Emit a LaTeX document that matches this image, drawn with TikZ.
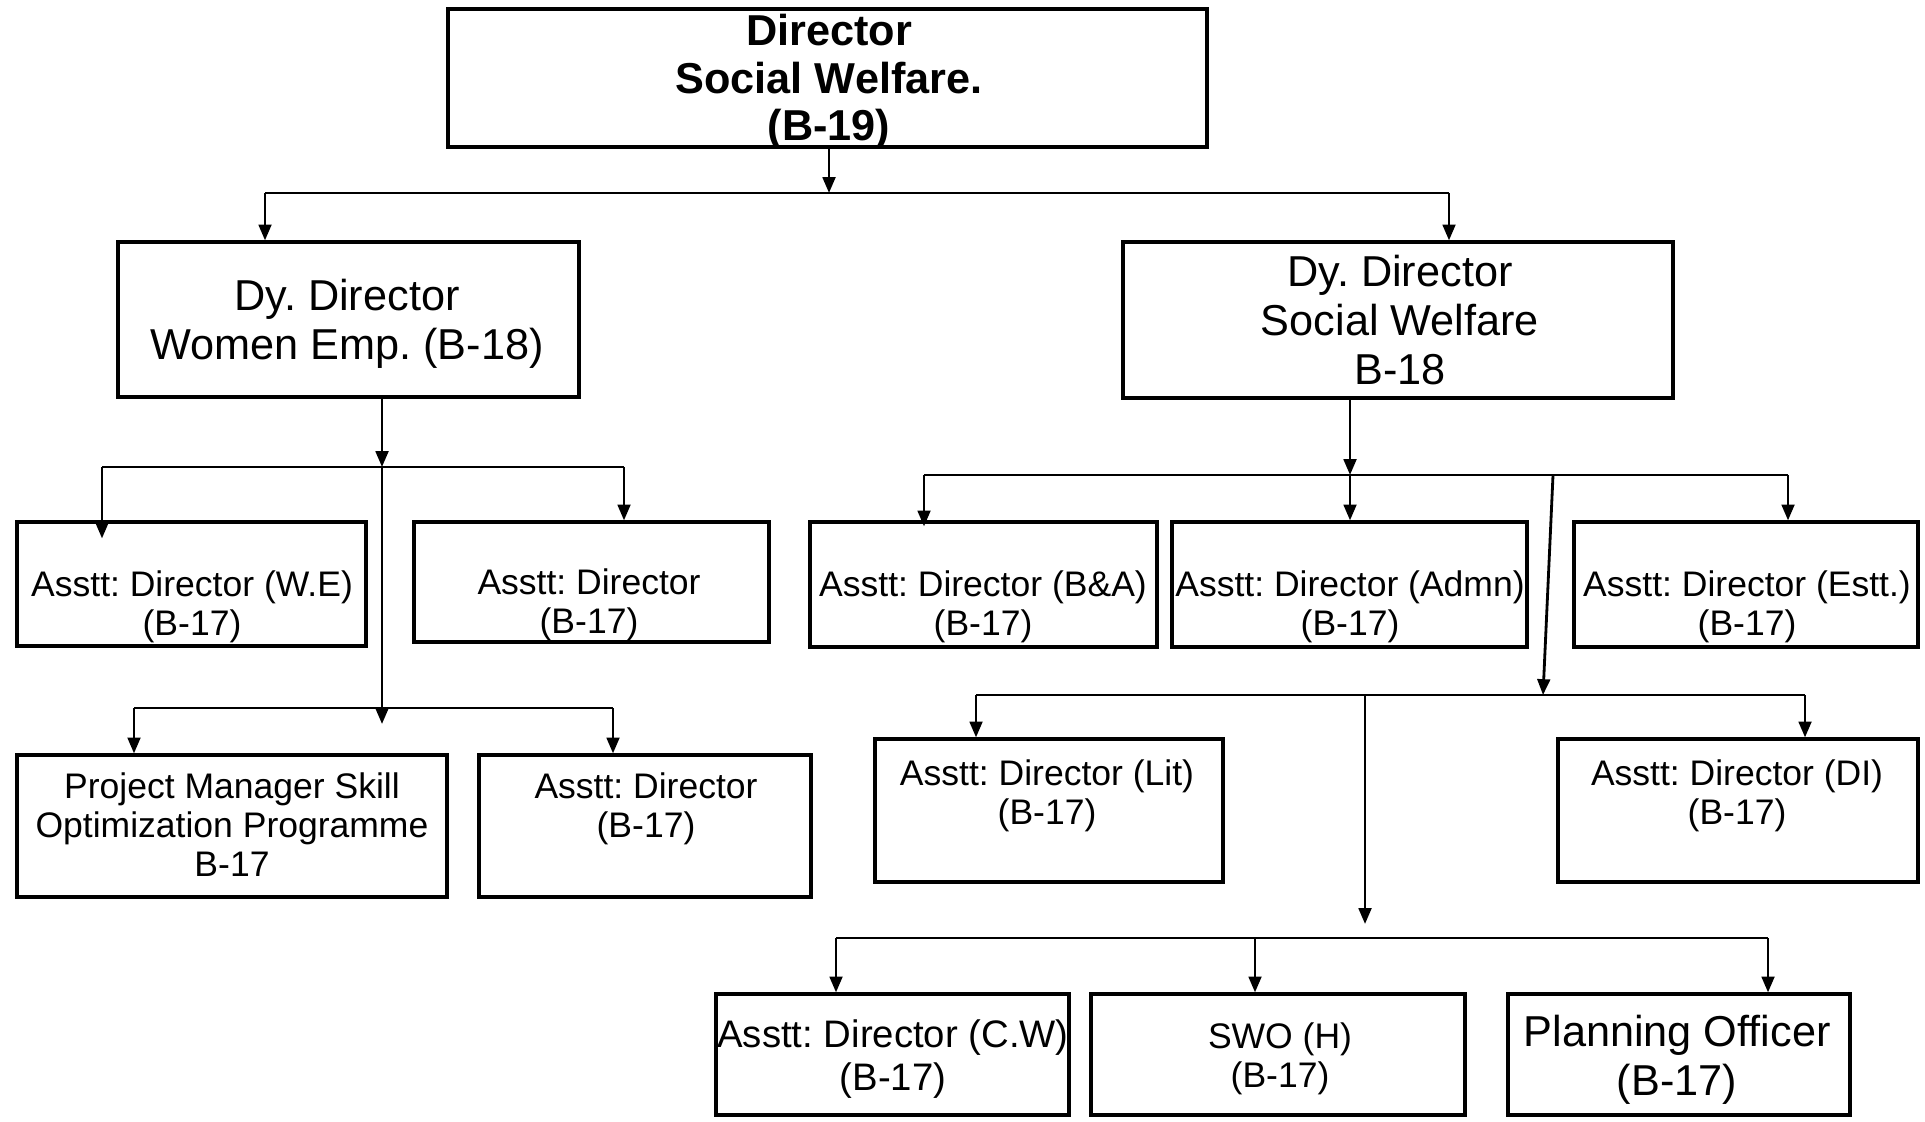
\documentclass[tikz,border=0pt]{standalone}
\usepackage{fontspec}
\setmainfont{Liberation Sans}
\usetikzlibrary{arrows.meta,fit,calc}
\frenchspacing
\begin{document}
\begin{tikzpicture}[x=0.01cm,y=-0.01cm,
  orgbox/.style={draw=black,line width=0.9pt,inner sep=0pt},
  ln/.style={draw=black,line width=0.8pt},
  arr/.style={draw=black,line width=0.8pt,-{Triangle[length=4.5pt,width=3.6pt]}},
  big/.style={align=center,font=\fontsize{12.3}{14}\selectfont,inner sep=0pt},
  bigb/.style={align=center,font=\fontsize{12.3}{13.5}\selectfont\bfseries,inner sep=0pt},
  small/.style={align=center,font=\fontsize{10.1}{11.1}\selectfont,inner sep=0pt},
  mid/.style={align=center,font=\fontsize{10.9}{12}\selectfont,inner sep=0pt}]
\useasboundingbox[fill=white] (0,0) rectangle (1925,1122);

% boxes
\node[orgbox,fit={(448,9) (1207,147)}] (dir) {};
\node[orgbox,fit={(118,242) (579,397)}] (dwe) {};
\node[orgbox,fit={(1123,242) (1673,398)}] (dsw) {};
\node[orgbox,fit={(17,522) (366,646)}] (we) {};
\node[orgbox,fit={(414,522) (769,642)}] (ad1) {};
\node[orgbox,fit={(17,755) (447,897)}] (pm) {};
\node[orgbox,fit={(479,755) (811,897)}] (ad2) {};
\node[orgbox,fit={(810,522) (1157,647)}] (ba) {};
\node[orgbox,fit={(1172,522) (1527,647)}] (adm) {};
\node[orgbox,fit={(1574,522) (1918,647)}] (est) {};
\node[orgbox,fit={(875,739) (1223,882)}] (lit) {};
\node[orgbox,fit={(1558,739) (1918,882)}] (di) {};
\node[orgbox,fit={(716,994) (1069,1115)}] (cw) {};
\node[orgbox,fit={(1091,994) (1465,1115)}] (swo) {};
\node[orgbox,fit={(1508,994) (1850,1115)}] (po) {};

% texts
\node[bigb] (dir-t) at (829,82) {Director\\Social Welfare.\\(B-19)};
\node[big] (dwe-t) at (347,324) {Dy. Director\\Women Emp. (B-18)};
\node[big] (dsw-t) at (1400,320) {Dy. Director\\Social Welfare\\B-18};
\node[small] (we-t) at (192,607) {Asstt: Director (W.E)\\(B-17)};
\node[small] (ad1-t) at (589,605) {Asstt: Director\\(B-17)};
\node[small] (pm-t) at (232,825) {Project Manager Skill\\Optimization Programme\\B-17};
\node[small] (ad2-t) at (646,809) {Asstt: Director\\(B-17)};
\node[small] (ba-t) at (983,607) {Asstt: Director (B\&A)\\(B-17)};
\node[small] (adm-t) at (1350,607) {Asstt: Director (Admn)\\(B-17)};
\node[small] (est-t) at (1747,607) {Asstt: Director (Estt.)\\(B-17)};
\node[small] (lit-t) at (1047,796) {Asstt: Director (Lit)\\(B-17)};
\node[small] (di-t) at (1737,796) {Asstt: Director (DI)\\(B-17)};
\node[mid] (cw-t) at (893,1059) {Asstt: Director (C.W)\\(B-17)};
\node[small] (swo-t) at (1280,1059) {SWO (H)\\(B-17)};
\node[big] (po-t) at (1677,1060) {Planning Officer\\(B-17)};

% top level
\coordinate (j0) at (829,193);
\coordinate (j0L) at (265,193);
\coordinate (j0R) at (1449,193);
\draw[arr] (dir.south -| j0) -- (j0);
\draw[ln] (j0L) -- (j0R);
\draw[arr] (j0L) -- (dwe.north -| j0L);
\draw[arr] (j0R) -- (dsw.north -| j0R);

% left subtree
\coordinate (j1) at (382,467);
\coordinate (j1L) at (102,467);
\coordinate (j1R) at (624,467);
\draw[arr] (dwe.south -| j1) -- (j1);
\draw[ln] (j1L) -- (j1R);
\draw[arr] (j1L) -- ($(we.north -| j1L)+(0,18)$);
\draw[arr] (j1R) -- (ad1.north -| j1R);
\coordinate (j2) at (382,708);
\coordinate (j2L) at (134,708);
\coordinate (j2R) at (613,708);
\draw[arr] (j1) -- ($(j2)+(0,16)$);
\draw[ln] (j2L) -- (j2R);
\draw[arr] (j2L) -- (pm.north -| j2L);
\draw[arr] (j2R) -- (ad2.north -| j2R);

% right subtree
\coordinate (j3) at (1350,475);
\coordinate (j3L) at (924,475);
\coordinate (j3R) at (1788,475);
\coordinate (j3D) at (1553,475);
\draw[arr] (dsw.south -| j3) -- (j3);
\draw[ln] (j3L) -- (j3R);
\draw[arr] (j3L) -- ($(ba.north -| j3L)+(0,6)$);
\draw[arr] (j3) -- (adm.north -| j3);
\draw[arr] (j3R) -- (est.north -| j3R);
\coordinate (j4) at (1543,695);
\coordinate (j4L) at (976,695);
\coordinate (j4R) at (1805,695);
\coordinate (j4M) at (1365,695);
\draw[arr] (j3D) -- (j4);
\draw[ln] (j4L) -- (j4R);
\draw[arr] (j4L) -- (lit.north -| j4L);
\draw[arr] (j4R) -- (di.north -| j4R);
\coordinate (j5) at (1365,938);
\coordinate (j5L) at (836,938);
\coordinate (j5M) at (1255,938);
\coordinate (j5R) at (1768,938);
\draw[arr] (j4M) -- ($(j5)+(0,-14)$);
\draw[ln] (j5L) -- (j5R);
\draw[arr] (j5L) -- (cw.north -| j5L);
\draw[arr] (j5M) -- (swo.north -| j5M);
\draw[arr] (j5R) -- (po.north -| j5R);
\end{tikzpicture}
\end{document}
